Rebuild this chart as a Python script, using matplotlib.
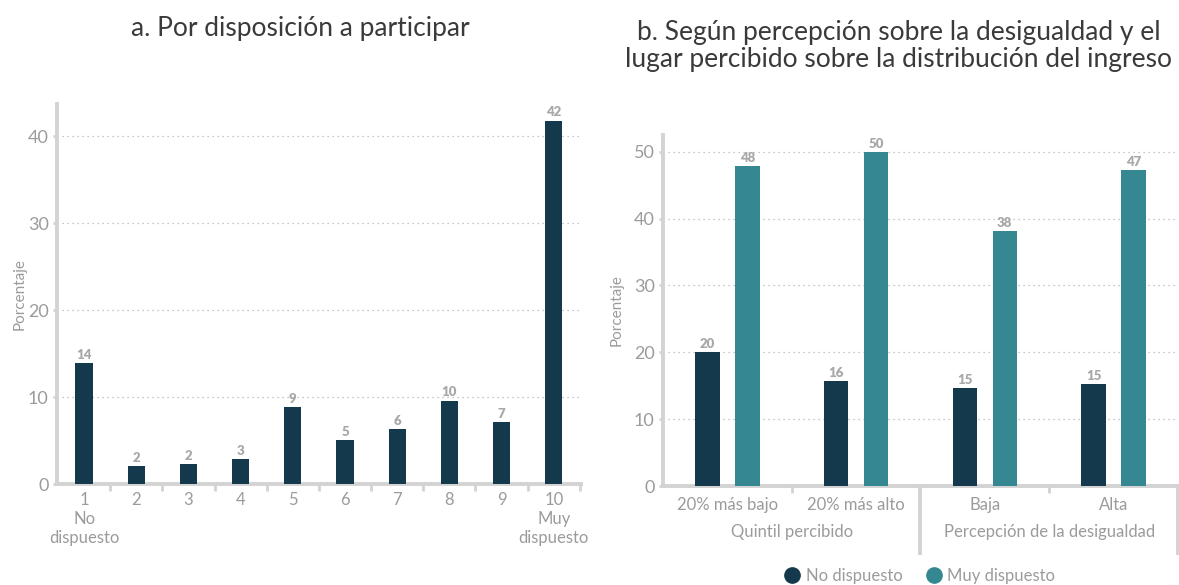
import numpy as np
import matplotlib.pyplot as plt
from matplotlib.lines import Line2D

plt.rcParams['font.family'] = ['Lato', 'DejaVu Sans']

# panel a: willingness to participate, scale 1-10
escala = ['1\nNo\ndispuesto', '2', '3', '4', '5', '6', '7', '8', '9', '10\nMuy\ndispuesto']
pct_a = [13.9, 2.1, 2.3, 2.9, 8.9, 5.1, 6.3, 9.6, 7.1, 41.8]

# panel b: by perceived quintile and perceived inequality
grupos = ['20% más bajo', '20% más alto', 'Baja', 'Alta']
bloques = ['Quintil percibido', 'Percepción de la desigualdad']
no_disp = [20.1, 15.7, 14.6, 15.2]
muy_disp = [47.8, 50.0, 38.1, 47.2]

navy = '#14384c'
teal = '#358891'
gris = '#9b9b9b'
linea = '#d3d3d3'


def estilo(ax):
    for d in ['top', 'right']:
        ax.spines[d].set_visible(False)
    for d in ['left', 'bottom']:
        ax.spines[d].set_color(linea)
        ax.spines[d].set_linewidth(2.8)
    ax.grid(axis='y', linestyle=(0, (1, 3)), color='#b5b5b5', linewidth=0.9)
    ax.set_axisbelow(True)
    ax.tick_params(axis='y', colors=linea, length=3, width=2, labelsize=13, labelcolor=gris, pad=3)
    ax.set_ylabel('Porcentaje', color=gris, fontsize=11)


def etiquetas(ax, xs, vals):
    for x, v in zip(xs, vals):
        ax.annotate(f'{v:.0f}', (x, v), xytext=(0, 1.5), textcoords='offset points',
                    ha='center', va='bottom', fontsize=9.5, fontweight='heavy', color='#a8a8a8')


fig = plt.figure(figsize=(11.79, 5.85), dpi=100)

# ---- a
ax1 = fig.add_axes([0.0483, 0.1726, 0.4444, 0.6496])
xa = np.arange(1, len(pct_a) + 1)
ax1.bar(xa, pct_a, width=0.33, color=navy, zorder=3)
etiquetas(ax1, xa, pct_a)
estilo(ax1)
ax1.set_xlim(0.48, 10.52)
ax1.set_ylim(0, 43.7)
ax1.set_yticks([0, 10, 20, 30, 40])
ax1.set_xticks(xa)
ax1.set_xticklabels(escala, fontsize=12, color=gris, linespacing=1.2, multialignment='center')
ax1.tick_params(axis='x', length=0, pad=6)
ax1.set_xticks(np.arange(1.5, 11, 1), minor=True)
ax1.tick_params(axis='x', which='minor', length=5, width=2, color=linea)
ax1.yaxis.set_label_coords(-0.058, 0.5)
fig.text(0.255, 0.952, 'a. Por disposición a participar', ha='center', va='center',
         fontsize=19, color='#3a3a3a')

# ---- b
ax2 = fig.add_axes([0.5623, 0.1692, 0.4368, 0.6])
xb = np.arange(len(grupos))
ax2.bar(xb - 0.155, no_disp, width=0.19, color=navy, zorder=3)
ax2.bar(xb + 0.155, muy_disp, width=0.19, color=teal, zorder=3)
etiquetas(ax2, xb - 0.155, no_disp)
etiquetas(ax2, xb + 0.155, muy_disp)
estilo(ax2)
ax2.set_xlim(-0.5, 3.5)
ax2.set_ylim(0, 52.5)
ax2.set_yticks([0, 10, 20, 30, 40, 50])
ax2.set_xticks(xb)
ax2.set_xticklabels(grupos, fontsize=12, color=gris)
ax2.tick_params(axis='x', length=0, pad=8)
ax2.set_xticks([0.5, 2.5], minor=True)
ax2.tick_params(axis='x', which='minor', length=5, width=2, color=linea)
ax2.yaxis.set_label_coords(-0.076, 0.5)
tr = ax2.get_xaxis_transform()
for xd in [1.5, 3.5]:
    ax2.plot([xd, xd], [0, -0.197], transform=tr, color=linea, linewidth=2.8,
             clip_on=False, solid_capstyle='butt')
for i, b in enumerate(bloques):
    ax2.text(2 * i + 0.5, -0.13, b, transform=tr, ha='center', va='center',
             fontsize=12, color=gris)
fig.text(0.762, 0.921, 'b. Según percepción sobre la desigualdad y el\nlugar percibido sobre la distribución del ingreso',
         ha='center', va='center', fontsize=19, color='#3a3a3a', linespacing=1.08)

handles = [Line2D([], [], marker='o', linestyle='', markersize=11, color=navy),
           Line2D([], [], marker='o', linestyle='', markersize=11, color=teal)]
fig.legend(handles, ['No dispuesto', 'Muy dispuesto'], loc='center', ncol=2,
           bbox_to_anchor=(0.78, 0.0154), frameon=False, fontsize=12, labelcolor=gris,
           handletextpad=0.3, columnspacing=1.4, handlelength=1.0)

plt.savefig('out.png', dpi=100)
